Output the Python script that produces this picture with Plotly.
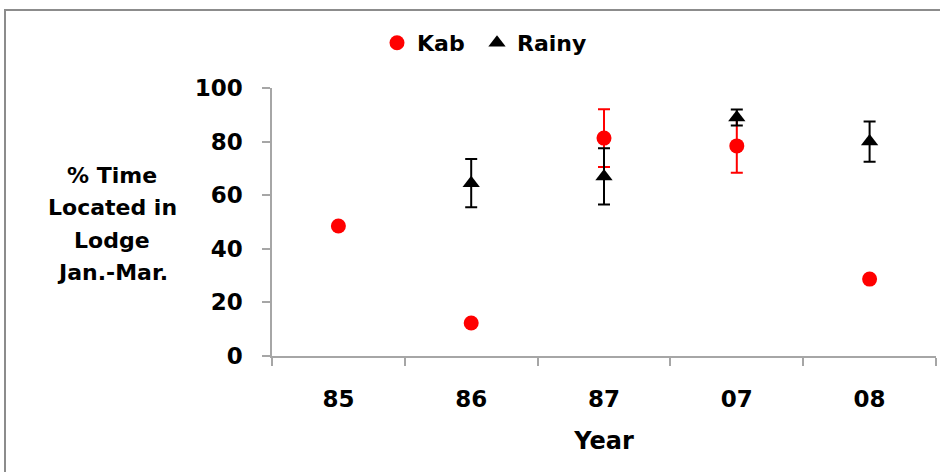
import plotly.graph_objects as go

years = ["85", "86", "87", "07", "08"]
kab = [48.5, 12.3, 81.3, 78.4, 28.7]
kab_err = [0, 0, 10.8, 10, 0]
rainy = [None, 64.5, 67, 89, 80]
rainy_err = [0, 9, 10.5, 3, 7.5]
y_ticks = [0, 20, 40, 60, 80, 100]
y_title_lines = ["% Time", "Located in", "Lodge", "Jan.-Mar."]

FONT = "DejaVu Sans"
W, H = 940, 472
L, R, T, B = 272, 4, 88, 116
pw, ph = W - L - R, H - T - B

fig = go.Figure()
fig.add_trace(go.Scatter(
    x=years, y=kab, mode="markers", name="Kab", legend="legend",
    marker=dict(symbol="circle", size=15, color="#ff0000"),
    error_y=dict(type="data", array=kab_err, visible=True, color="#ff0000", thickness=2, width=6),
    cliponaxis=False,
))
fig.add_trace(go.Scatter(
    x=years, y=rainy, mode="markers", name="Rainy", legend="legend2",
    marker=dict(symbol="triangle-up", size=15, color="#000000"),
    error_y=dict(type="data", array=rainy_err, visible=True, color="#000000", thickness=2, width=6),
    cliponaxis=False,
))

def px_x(x):
    return (x - L) / pw

def px_y(y):
    return 1 - (y - T) / ph

fig.add_shape(type="rect", xref="paper", yref="paper",
              x0=px_x(5), x1=px_x(960), y0=px_y(10), y1=px_y(500),
              line=dict(color="#8c8c8c", width=2), fillcolor="rgba(0,0,0,0)", layer="below")

for i, line in enumerate(y_title_lines):
    fig.add_annotation(xref="paper", yref="paper", x=px_x(112), y=px_y(175 + 32.5 * i),
                       text=line, showarrow=False,
                       font=dict(family=FONT, size=22, color="#000000", weight="bold"),
                       align="center", xanchor="center", yanchor="middle")

legend_font = dict(family=FONT, size=22, color="#000000", weight="bold")
fig.update_layout(
    width=W, height=H,
    margin=dict(l=L, r=R, t=T, b=B),
    paper_bgcolor="white", plot_bgcolor="white",
    font=dict(family=FONT, color="#000000"),
    showlegend=True,
    legend=dict(orientation="h", x=px_x(377), y=px_y(43), xanchor="left", yanchor="middle",
                font=legend_font, bgcolor="rgba(0,0,0,0)", itemwidth=30),
    legend2=dict(orientation="h", x=px_x(477), y=px_y(43), xanchor="left", yanchor="middle",
                 font=legend_font, bgcolor="rgba(0,0,0,0)", itemwidth=30),
    xaxis=dict(type="category", categoryorder="array", categoryarray=years, range=[-0.5, 4.5],
               showline=True, linecolor="#a6a6a6", linewidth=1.5,
               ticks="outside", tickson="boundaries", ticklen=8, tickcolor="#a6a6a6", tickwidth=1.5,
               showgrid=False, zeroline=False,
               tickfont=dict(family=FONT, size=23, color="#000000", weight="bold"),
               ticklabelstandoff=22,
               title=dict(text="Year", font=dict(family=FONT, size=24, color="#000000", weight="bold"), standoff=21)),
    yaxis=dict(range=[0, 100], tickvals=y_ticks, showline=True, linecolor="#a6a6a6", linewidth=1.5,
               ticks="outside", ticklen=8, tickcolor="#a6a6a6", tickwidth=1.5,
               showgrid=False, zeroline=False,
               tickfont=dict(family=FONT, size=23, color="#000000", weight="bold"),
               ticklabelstandoff=15),
)

fig.write_html("out.html", config={"displayModeBar": False},
               post_script="document.documentElement.style.margin='0';document.body.style.margin='0';document.body.style.overflow='hidden';")
